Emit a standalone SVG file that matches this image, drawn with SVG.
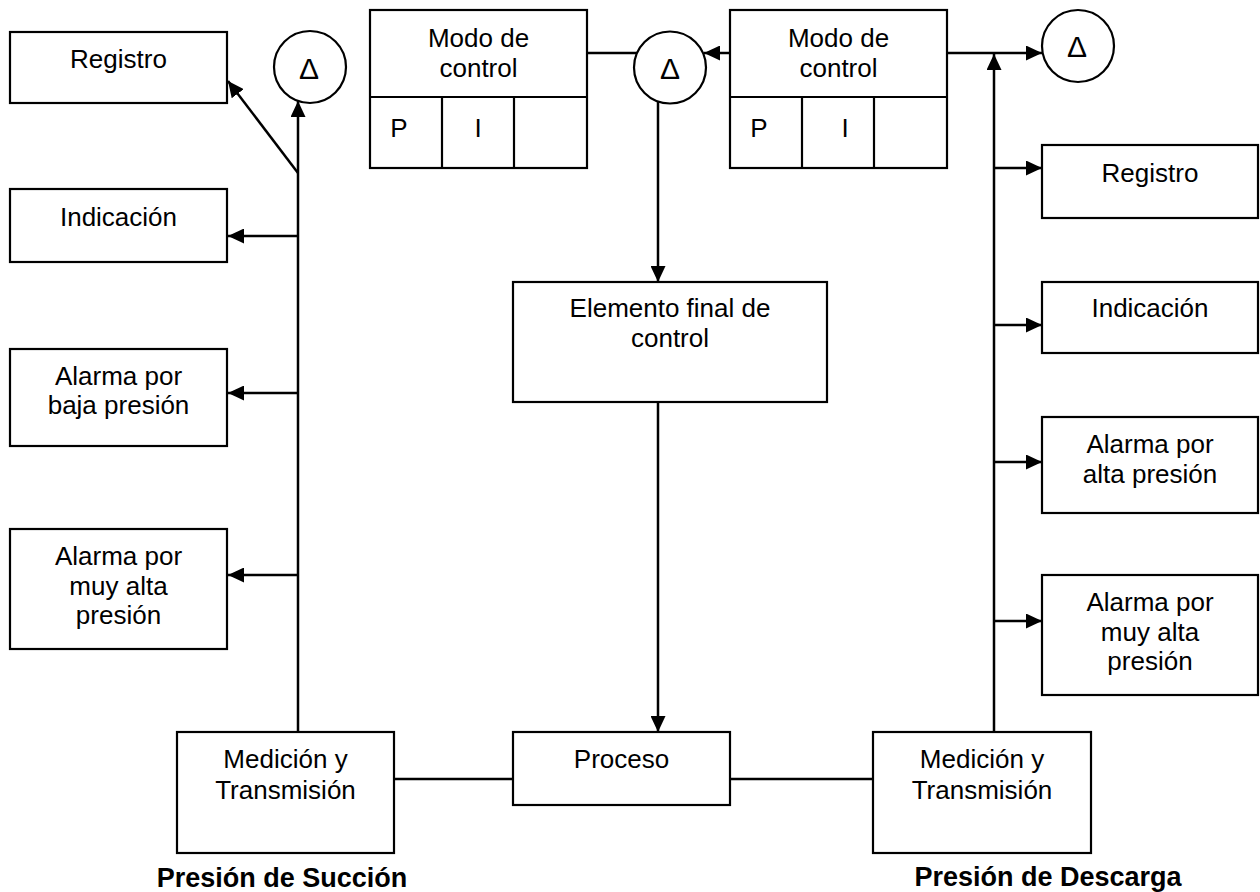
<svg xmlns="http://www.w3.org/2000/svg" width="1260" height="892" viewBox="0 0 1260 892">
  <style>
    .box { fill: #ffffff; stroke: #000000; stroke-width: 2.2; }
    .ring { fill: #ffffff; stroke: #000000; stroke-width: 2.2; }
    .lbl { font-family: "Liberation Sans", Arial, sans-serif; font-size: 26px; fill: #000000; text-anchor: middle; }
    .cap { font-family: "Liberation Sans", Arial, sans-serif; font-size: 27px; font-weight: bold; fill: #000000; text-anchor: middle; }
    .delta { font-family: "Liberation Sans", Arial, sans-serif; font-size: 30px; fill: #000000; text-anchor: middle; }
    .wire { fill: none; stroke: #000000; stroke-width: 2.5; }
  </style>
  <defs>
    <marker id="arrow" viewBox="0 0 16 15" refX="16" refY="7.5" markerWidth="16" markerHeight="15" markerUnits="userSpaceOnUse" orient="auto">
      <path d="M0,0 L16,7.5 L0,15 z" fill="#000000"/>
    </marker>
  </defs>

  <rect width="1260" height="892" fill="#ffffff"/>

  <!-- connectors -->
  <g id="connectors">
    <!-- suction side -->
    <line class="wire" x1="298" y1="732" x2="298" y2="101" marker-end="url(#arrow)"/>
    <line class="wire" x1="298" y1="173" x2="228" y2="81" marker-end="url(#arrow)"/>
    <line class="wire" x1="298" y1="236" x2="228" y2="236" marker-end="url(#arrow)"/>
    <line class="wire" x1="298" y1="393" x2="228" y2="393" marker-end="url(#arrow)"/>
    <line class="wire" x1="298" y1="575" x2="228" y2="575" marker-end="url(#arrow)"/>
    <!-- control loop -->
    <line class="wire" x1="587" y1="53" x2="637" y2="53"/>
    <line class="wire" x1="730" y1="53" x2="704" y2="53" marker-end="url(#arrow)"/>
    <line class="wire" x1="658" y1="101" x2="658" y2="282" marker-end="url(#arrow)"/>
    <line class="wire" x1="658" y1="402" x2="658" y2="732" marker-end="url(#arrow)"/>
    <!-- discharge side -->
    <line class="wire" x1="947" y1="53" x2="1042" y2="53" marker-end="url(#arrow)"/>
    <line class="wire" x1="994" y1="732" x2="994" y2="54" marker-end="url(#arrow)"/>
    <line class="wire" x1="994" y1="168" x2="1042" y2="168" marker-end="url(#arrow)"/>
    <line class="wire" x1="994" y1="325" x2="1042" y2="325" marker-end="url(#arrow)"/>
    <line class="wire" x1="994" y1="462" x2="1042" y2="462" marker-end="url(#arrow)"/>
    <line class="wire" x1="994" y1="621" x2="1042" y2="621" marker-end="url(#arrow)"/>
    <!-- process line -->
    <line class="wire" x1="394" y1="779" x2="513" y2="779"/>
    <line class="wire" x1="730" y1="779" x2="873" y2="779"/>
  </g>

  <!-- suction side outputs -->
  <g id="registro-s">
    <rect class="box" x="10" y="32" width="217" height="71"/>
    <text class="lbl" x="118.5" y="68">Registro</text>
  </g>
  <g id="indicacion-s">
    <rect class="box" x="10" y="189" width="217" height="73"/>
    <text class="lbl" x="118.5" y="226">Indicación</text>
  </g>
  <g id="alarma-baja-s">
    <rect class="box" x="10" y="349" width="217" height="97"/>
    <text class="lbl" x="118.5" y="385">Alarma por</text>
    <text class="lbl" x="118.5" y="414">baja presión</text>
  </g>
  <g id="alarma-muy-alta-s">
    <rect class="box" x="10" y="529" width="217" height="120"/>
    <text class="lbl" x="118.5" y="565">Alarma por</text>
    <text class="lbl" x="118.5" y="595">muy alta</text>
    <text class="lbl" x="118.5" y="624">presión</text>
  </g>

  <!-- comparators -->
  <g id="delta-s">
    <circle class="ring" cx="310" cy="67" r="36"/>
    <text class="delta" x="309" y="79">Δ</text>
  </g>
  <g id="delta-c">
    <circle class="ring" cx="670" cy="67.5" r="36"/>
    <text class="delta" x="670" y="79">Δ</text>
  </g>
  <g id="delta-d">
    <circle class="ring" cx="1078" cy="46" r="36"/>
    <text class="delta" x="1077" y="57">Δ</text>
  </g>

  <!-- controllers -->
  <g id="modo-control-1">
    <rect class="box" x="370" y="10" width="217" height="158"/>
    <line class="box" x1="370" y1="97" x2="587" y2="97"/>
    <line class="box" x1="442" y1="97" x2="442" y2="168"/>
    <line class="box" x1="514" y1="97" x2="514" y2="168"/>
    <text class="lbl" x="478.5" y="47">Modo de</text>
    <text class="lbl" x="478.5" y="77">control</text>
    <text class="lbl" x="399" y="137">P</text>
    <text class="lbl" x="478" y="137">I</text>
  </g>
  <g id="modo-control-2">
    <rect class="box" x="730" y="10" width="217" height="158"/>
    <line class="box" x1="730" y1="97" x2="947" y2="97"/>
    <line class="box" x1="802" y1="97" x2="802" y2="168"/>
    <line class="box" x1="874" y1="97" x2="874" y2="168"/>
    <text class="lbl" x="838.5" y="47">Modo de</text>
    <text class="lbl" x="838.5" y="77">control</text>
    <text class="lbl" x="759" y="137">P</text>
    <text class="lbl" x="845" y="137">I</text>
  </g>

  <!-- final element and process -->
  <g id="elemento-final">
    <rect class="box" x="513" y="282" width="314" height="120"/>
    <text class="lbl" x="670" y="317">Elemento final de</text>
    <text class="lbl" x="670" y="347">control</text>
  </g>
  <g id="proceso">
    <rect class="box" x="513" y="732" width="217" height="73"/>
    <text class="lbl" x="621.5" y="768">Proceso</text>
  </g>

  <!-- transmitters -->
  <g id="medicion-s">
    <rect class="box" x="177" y="732" width="217" height="121"/>
    <text class="lbl" x="285.5" y="768">Medición y</text>
    <text class="lbl" x="285.5" y="799">Transmisión</text>
  </g>
  <g id="medicion-d">
    <rect class="box" x="873" y="732" width="218" height="121"/>
    <text class="lbl" x="982" y="768">Medición y</text>
    <text class="lbl" x="982" y="799">Transmisión</text>
  </g>

  <!-- discharge side outputs -->
  <g id="registro-d">
    <rect class="box" x="1042" y="145" width="216" height="73"/>
    <text class="lbl" x="1150" y="182">Registro</text>
  </g>
  <g id="indicacion-d">
    <rect class="box" x="1042" y="282" width="216" height="71"/>
    <text class="lbl" x="1150" y="317">Indicación</text>
  </g>
  <g id="alarma-alta-d">
    <rect class="box" x="1042" y="417" width="216" height="96"/>
    <text class="lbl" x="1150" y="453">Alarma por</text>
    <text class="lbl" x="1150" y="483">alta presión</text>
  </g>
  <g id="alarma-muy-alta-d">
    <rect class="box" x="1042" y="575" width="216" height="120"/>
    <text class="lbl" x="1150" y="611">Alarma por</text>
    <text class="lbl" x="1150" y="641">muy alta</text>
    <text class="lbl" x="1150" y="670">presión</text>
  </g>

  <!-- side captions -->
  <g id="captions">
    <text class="cap" x="282" y="887">Presión de Succión</text>
    <text class="cap" x="1048" y="886">Presión de Descarga</text>
  </g>
</svg>
